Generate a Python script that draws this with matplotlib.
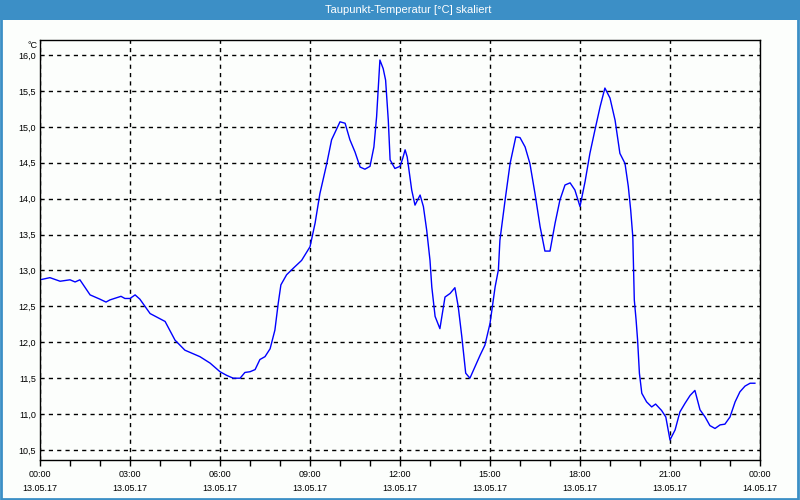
import matplotlib
matplotlib.use("Agg")
import matplotlib.pyplot as plt
from matplotlib.patches import Rectangle
from matplotlib.ticker import MultipleLocator, FixedLocator

# Stunden seit 13.05.17 00:00 und Taupunkt in °C
hours = [0.0, 0.33, 0.67, 1.0, 1.17, 1.33, 1.67, 2.0, 2.2, 2.33, 2.7, 2.83, 3.0,
         3.17, 3.33, 3.67, 4.17, 4.5, 4.83, 5.33, 5.67, 6.0, 6.22, 6.44, 6.67,
         6.83, 7.0, 7.17, 7.33, 7.5, 7.67, 7.83, 7.94, 8.03, 8.22, 8.44, 8.72,
         9.0, 9.17, 9.33, 9.56, 9.72, 10.0, 10.17, 10.33, 10.5, 10.67, 10.83,
         11.0, 11.13, 11.22, 11.33, 11.44, 11.52, 11.61, 11.67, 11.83, 12.0,
         12.09, 12.17, 12.24, 12.39, 12.5, 12.67, 12.78, 12.89, 13.0, 13.06,
         13.17, 13.33, 13.5, 13.67, 13.83, 13.94, 14.06, 14.19, 14.33, 14.5,
         14.67, 14.83, 15.0, 15.17, 15.28, 15.33, 15.5, 15.67, 15.86, 16.0,
         16.17, 16.33, 16.5, 16.67, 16.83, 17.0, 17.17, 17.33, 17.5, 17.67,
         17.83, 18.0, 18.17, 18.33, 18.5, 18.67, 18.83, 19.0, 19.17, 19.33,
         19.5, 19.61, 19.69, 19.76, 19.78, 19.81, 19.87, 19.92, 19.98, 20.06,
         20.22, 20.39, 20.52, 20.72, 20.86, 21.0, 21.17, 21.33, 21.5, 21.67,
         21.83, 22.0, 22.17, 22.33, 22.5, 22.67, 22.83, 23.0, 23.17, 23.33,
         23.5, 23.67, 23.83]
dewpoint = [12.87, 12.90, 12.85, 12.87, 12.84, 12.87, 12.66, 12.60, 12.56, 12.59,
            12.64, 12.61, 12.61, 12.66, 12.60, 12.40, 12.29, 12.03, 11.89, 11.80,
            11.71, 11.59, 11.54, 11.50, 11.50, 11.58, 11.59, 11.62, 11.76, 11.80,
            11.91, 12.17, 12.54, 12.80, 12.94, 13.03, 13.14, 13.33, 13.66, 14.07,
            14.49, 14.82, 15.07, 15.05, 14.82, 14.65, 14.44, 14.41, 14.45, 14.72,
            15.14, 15.93, 15.81, 15.65, 15.09, 14.54, 14.42, 14.45, 14.56, 14.68,
            14.58, 14.12, 13.91, 14.05, 13.89, 13.56, 13.14, 12.77, 12.36, 12.19,
            12.63, 12.68, 12.76, 12.50, 12.08, 11.57, 11.50, 11.66, 11.82, 11.96,
            12.26, 12.77, 13.01, 13.42, 13.97, 14.49, 14.86, 14.85, 14.72, 14.49,
            14.07, 13.61, 13.27, 13.27, 13.66, 13.98, 14.19, 14.22, 14.12, 13.89,
            14.24, 14.63, 14.96, 15.28, 15.54, 15.40, 15.09, 14.63, 14.49, 14.17,
            13.84, 13.47, 13.14, 12.59, 12.31, 12.03, 11.57, 11.29, 11.17, 11.10,
            11.14, 11.05, 10.96, 10.64, 10.78, 11.03, 11.15, 11.26, 11.33, 11.06,
            10.96, 10.84, 10.80, 10.85, 10.86, 10.96, 11.17, 11.31, 11.39, 11.43,
            11.43]

tick_hours = [0, 3, 6, 9, 12, 15, 18, 21, 24]
tick_labels = ["00:00\n13.05.17", "03:00\n13.05.17", "06:00\n13.05.17",
               "09:00\n13.05.17", "12:00\n13.05.17", "15:00\n13.05.17",
               "18:00\n13.05.17", "21:00\n13.05.17", "00:00\n14.05.17"]
y_ticks = [10.5, 11.0, 11.5, 12.0, 12.5, 13.0, 13.5, 14.0, 14.5, 15.0, 15.5, 16.0]

plt.rcParams['font.family'] = ['Liberation Sans', 'DejaVu Sans']
bg = '#fcfefc'
blue_frame = '#3c8fc6'

fig = plt.figure(figsize=(8, 5), dpi=100, facecolor=bg)

# Titelleiste und Rahmen
fig.patches.append(Rectangle((0, 1 - 20 / 500), 1, 20 / 500, transform=fig.transFigure,
                             facecolor=blue_frame, edgecolor='none', zorder=0))
fig.patches.append(Rectangle((0.001, 0.002), 0.997, 0.996, transform=fig.transFigure,
                             facecolor='none', edgecolor=blue_frame, linewidth=2, zorder=1))
fig.text(408 / 800, 1 - 10 / 500, "Taupunkt-Temperatur [°C] skaliert", color='white',
         ha='center', va='center', fontsize=8)

ax = fig.add_axes([0.05, 0.08, 0.9, 0.84])
ax.set_facecolor(bg)
ax.plot(hours, dewpoint, color='#0000ff', linewidth=1)

ax.set_xlim(0, 24)
ax.set_ylim(10.361, 16.209)
ax.xaxis.set_major_locator(FixedLocator(tick_hours))
ax.xaxis.set_minor_locator(MultipleLocator(1))
ax.set_xticklabels(tick_labels, fontsize=6.5, linespacing=1.75)
ax.set_yticks(y_ticks)
ax.set_yticklabels([f"{v:.1f}".replace('.', ',') for v in y_ticks], fontsize=6.5)

ax.tick_params(axis='x', which='both', direction='out', length=4, width=1, pad=3)
ax.tick_params(axis='y', length=0, pad=3)
ax.grid(True, which='major', color='black', linestyle=(0, (3, 3)), linewidth=1)
for s in ax.spines.values():
    s.set_color('black')
    s.set_linewidth(1)

fig.text(32 / 800, 1 - 45 / 500, "°C", ha='center', va='center', fontsize=6.5)

fig.savefig("out.png", dpi=100, facecolor=bg)
